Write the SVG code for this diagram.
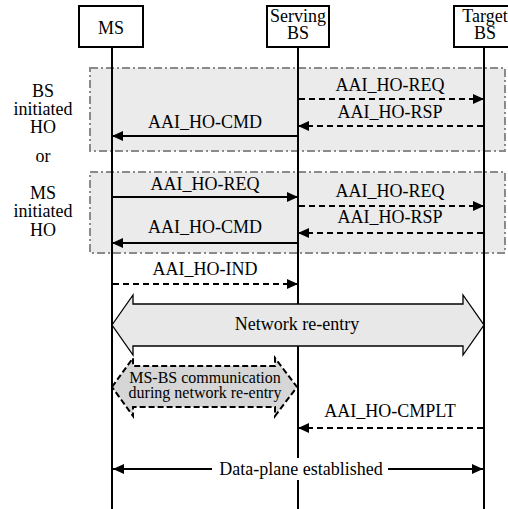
<svg xmlns="http://www.w3.org/2000/svg" width="508" height="509" viewBox="0 0 508 509" font-family="Liberation Serif" font-size="18">
<style>
text{fill:#000;text-anchor:middle}
.sm{font-size:16px}
.hdr{fill:#fff;stroke:#000;stroke-width:2}
.life{stroke:#000;stroke-width:2;fill:none}
.grp{fill:#ebebeb;stroke:#8a8a8a;stroke-width:2;stroke-dasharray:8 3 2 3}
.msg{stroke:#000;stroke-width:2;fill:none;marker-end:url(#ah)}
.dash{stroke-dasharray:6 4}
</style>
<defs>
<marker id="ah" markerUnits="userSpaceOnUse" markerWidth="12" markerHeight="10" refX="11" refY="5" orient="auto"><path d="M0,0 L11,5 L0,10 z" fill="#000"/></marker>
<marker id="as" markerUnits="userSpaceOnUse" markerWidth="12" markerHeight="10" refX="1" refY="5" orient="auto"><path d="M12,0 L1,5 L12,10 z" fill="#000"/></marker>
</defs>
<g id="groups">
<rect class="grp" x="90" y="68" width="415" height="83"/>
<rect class="grp" x="90" y="172" width="415" height="81"/>
</g>
<g id="ms"><rect class="hdr" x="79" y="6" width="64" height="41"/><text x="111" y="34">MS</text><line class="life" x1="112" y1="47" x2="112" y2="509"/></g>
<g id="serving"><rect class="hdr" x="267" y="6" width="62" height="41"/><text x="298" y="22">Serving</text><text x="298" y="39">BS</text><line class="life" x1="298" y1="47" x2="298" y2="509"/></g>
<g id="target"><rect class="hdr" x="454" y="6" width="62" height="41"/><text x="485" y="22">Target</text><text x="485" y="39">BS</text><line class="life" x1="484" y1="47" x2="484" y2="509"/></g>
<g id="side-labels">
<text x="43" y="97">BS</text><text x="43" y="115">initiated</text><text x="43" y="133">HO</text>
<text x="43" y="162">or</text>
<text x="43" y="199">MS</text><text x="43" y="217">initiated</text><text x="43" y="236">HO</text>
</g>
<g id="connectors">
<line class="msg dash" x1="299" y1="99" x2="484" y2="99"/>
<line class="msg dash" x1="483" y1="126" x2="298" y2="126"/>
<line class="msg" x1="297" y1="136" x2="112" y2="136"/>
<line class="msg" x1="113" y1="197" x2="298" y2="197"/>
<line class="msg dash" x1="299" y1="206" x2="484" y2="206"/>
<line class="msg dash" x1="483" y1="233" x2="298" y2="233"/>
<line class="msg" x1="297" y1="243" x2="112" y2="243"/>
<line class="msg dash" x1="113" y1="284" x2="298" y2="284"/>
<line class="msg dash" x1="483" y1="428" x2="298" y2="428"/>
<line stroke="#000" stroke-width="2" x1="113" y1="469" x2="483" y2="469" marker-start="url(#as)" marker-end="url(#ah)"/>
</g>
<g id="msg-labels">
<text x="390" y="91">AAI_HO-REQ</text>
<text x="390" y="118">AAI_HO-RSP</text>
<text x="205" y="128">AAI_HO-CMD</text>
<text x="205" y="190">AAI_HO-REQ</text>
<text x="390" y="197">AAI_HO-REQ</text>
<text x="390" y="223">AAI_HO-RSP</text>
<text x="205" y="233">AAI_HO-CMD</text>
<text x="205" y="275">AAI_HO-IND</text>
<text x="390" y="417">AAI_HO-CMPLT</text>
</g>
<g id="network-reentry">
<polygon points="112,325 133,295 133,304 463,304 463,295 484,325 463,355 463,346 133,346 133,355" fill="#e8e8e8" stroke="#000" stroke-width="1.3"/>
<text x="297" y="330">Network re-entry</text>
</g>
<g id="ms-bs-comm">
<polygon points="112,387 133,358 133,366 275,366 275,358 297,387 275,416 275,407 133,407 133,416" fill="#d6d6d6" stroke="#000" stroke-width="2" stroke-dasharray="6 3"/>
<text class="sm" x="205" y="383">MS-BS communication</text>
<text class="sm" x="205" y="398">during network re-entry</text>
</g>
<g id="data-plane">
<rect x="212" y="458" width="176" height="22" fill="#fff"/>
<text x="301" y="475">Data-plane established</text>
</g>
</svg>
